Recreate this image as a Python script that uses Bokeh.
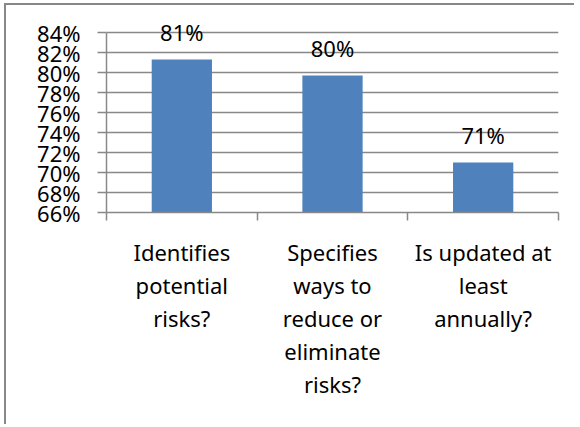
from bokeh.plotting import figure
from bokeh.models import (ColumnDataSource, Range1d, FixedTicker, PrintfTickFormatter,
                          LabelSet, InlineStyleSheet)
from bokeh.core.properties import value
from bokeh.embed import file_html
from bokeh.resources import INLINE

categories = ["Identifies potential risks?",
              "Specifies ways to reduce or eliminate risks?",
              "Is updated at least annually?"]
wrapped_labels = ["Identifies\npotential\nrisks?",
                  "Specifies\nways to\nreduce or\neliminate\nrisks?",
                  "Is updated at\nleast\nannually?"]
values = [81.3, 79.7, 71.0]
value_labels = ["81%", "80%", "71%"]
y_ticks = [66, 68, 70, 72, 74, 76, 78, 80, 82, 84]

FONT = "Noto Sans"
GRAY = "#888888"

W, H = 570, 421
left, top, right, bottom = 100, 15, 552, 207

n = len(categories)
centers = [i + 0.5 for i in range(n)]
boundaries = list(range(n + 1))

p = figure(width=W, height=H, x_range=Range1d(0, n),
           y_range=Range1d(y_ticks[0], y_ticks[-1] + 1.2),
           output_backend="svg", toolbar_location=None,
           min_border_left=left, min_border_top=top,
           min_border_right=W - right, min_border_bottom=H - bottom)
p.stylesheets = [InlineStyleSheet(css=f":host {{ border-left: 2px solid {GRAY}; "
                                      f"border-top: 2px solid {GRAY}; "
                                      f"margin-left: 4px; margin-top: 3px; }}")]
p.outline_line_color = None
p.background_fill_color = "white"
p.border_fill_color = "white"

src = ColumnDataSource(dict(x=centers, cat=categories, val=values, lab=value_labels))
p.vbar(x="x", top="val", bottom=y_ticks[0], width=0.4, source=src,
       fill_color="#4f81bd", line_color=None)

# y axis
yax = p.yaxis[0]
yax.ticker = FixedTicker(ticks=y_ticks, minor_ticks=[])
yax.bounds = (y_ticks[0], y_ticks[-1])
yax.formatter = PrintfTickFormatter(format="%d%%")
yax.axis_line_color = GRAY
yax.axis_line_width = 1.5
yax.major_tick_line_color = GRAY
yax.major_tick_line_width = 1.5
yax.major_tick_out = 9
yax.major_tick_in = 0
yax.minor_tick_line_color = None
yax.major_label_text_font = FONT
yax.major_label_text_font_size = "22px"
yax.major_label_text_color = "black"
yax.major_label_standoff = 17

p.ygrid.ticker = FixedTicker(ticks=y_ticks)
p.ygrid.grid_line_color = GRAY
p.ygrid.grid_line_width = 1.5
p.xgrid.grid_line_color = None

# x axis: ticks on category boundaries, labels at centers
xax = p.xaxis[0]
xax.ticker = FixedTicker(ticks=centers, minor_ticks=boundaries)
xax.major_label_overrides = {c: t for c, t in zip(centers, wrapped_labels)}
xax.axis_line_color = GRAY
xax.axis_line_width = 1.5
xax.major_tick_out = 0
xax.major_tick_in = 0
xax.minor_tick_line_color = GRAY
xax.minor_tick_line_width = 1.5
xax.minor_tick_out = 8
xax.minor_tick_in = 0
xax.major_label_text_font = FONT
xax.major_label_text_font_size = "22px"
xax.major_label_text_color = "black"
xax.major_label_text_line_height = 1.1
xax.major_label_standoff = 16

labels = LabelSet(x="x", y="val", text="lab", source=src, text_align="center",
                  text_baseline="alphabetic", y_offset=19, text_font=value(FONT),
                  text_font_size="22px", text_color="black")
p.add_layout(labels)

open("out.html", "w").write(file_html(p, INLINE))
